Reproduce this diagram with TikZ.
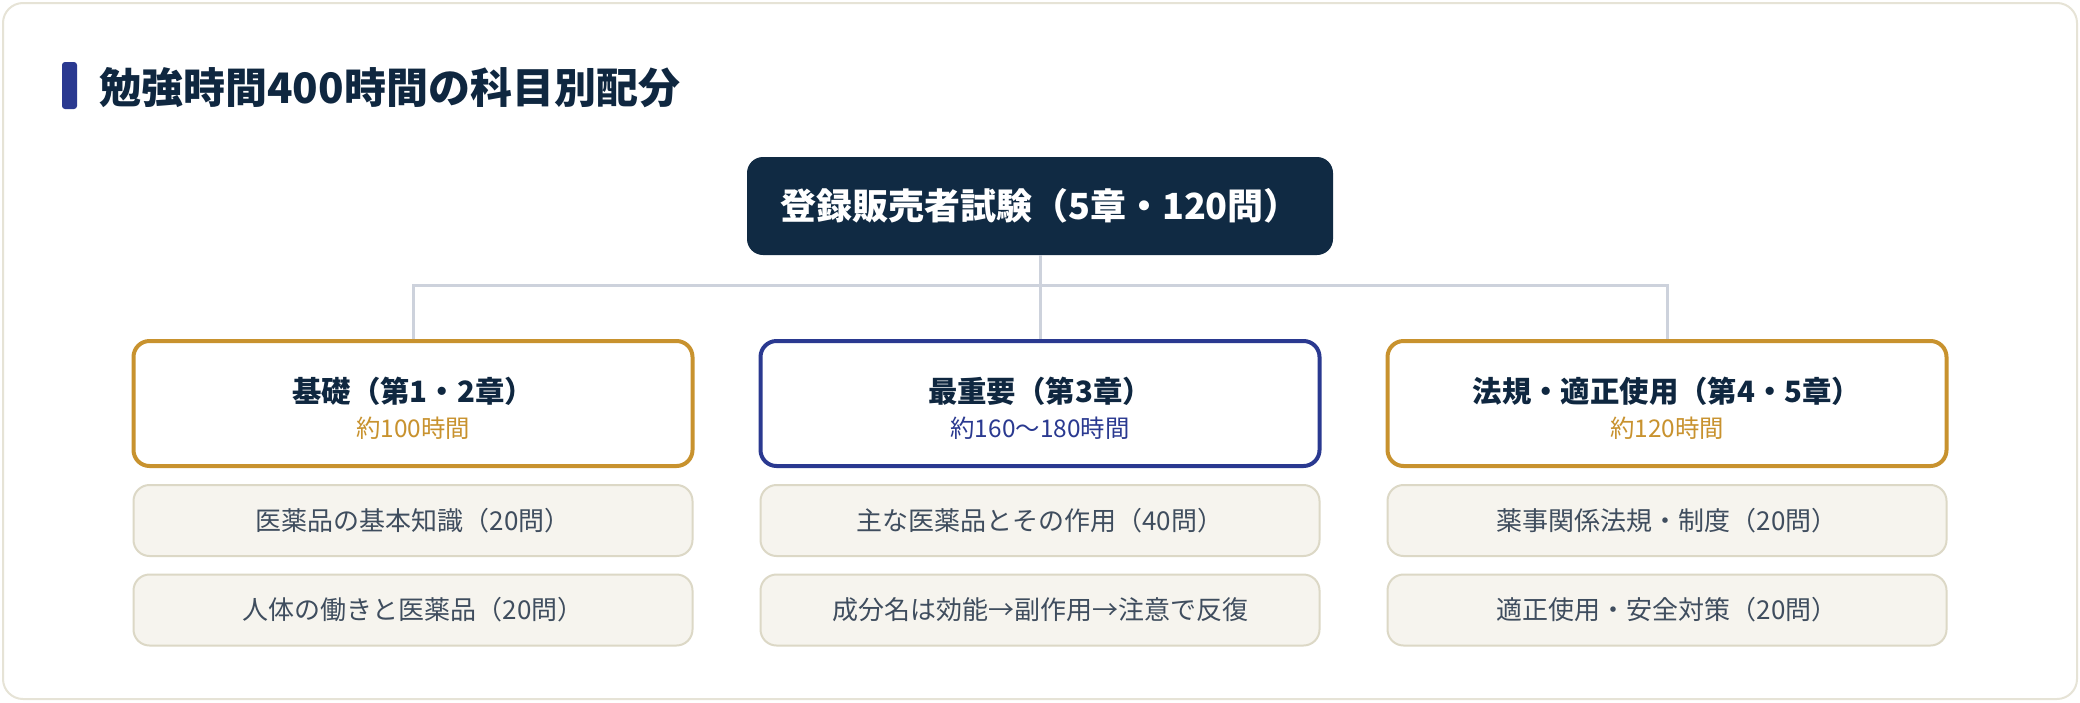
\documentclass[tikz,border=0pt]{standalone}
\usepackage{fontspec}
\setmainfont{Noto Sans CJK JP}
\definecolor{navy}{HTML}{0F2740}
\definecolor{headfill}{HTML}{102A43}
\definecolor{gold}{HTML}{C8922E}
\definecolor{indigo}{HTML}{2A3990}
\definecolor{itemfill}{HTML}{F6F4EE}
\definecolor{itemline}{HTML}{DCD8C6}
\definecolor{itemtext}{HTML}{3F4D5E}
\definecolor{cardline}{HTML}{E6E3D6}
\definecolor{conncol}{HTML}{CDD2DC}
\begin{document}
\begin{tikzpicture}[x=0.5pt,y=-0.5pt,
  card/.style={draw=cardline,line width=1pt,rounded corners=10pt,fill=white},
  headbox/.style={fill=headfill,rounded corners=8pt,minimum width=293pt,minimum height=49pt,inner sep=0pt,text=white,font=\bfseries\fontsize{18}{20}\selectfont},
  catbox/.style={draw=#1,fill=white,line width=2pt,rounded corners=8pt,minimum width=279.5pt,minimum height=62.5pt,inner sep=0pt},
  cattitle/.style={text=navy,font=\bfseries\fontsize{14.7}{16}\selectfont,inner sep=0pt},
  catsub/.style={text=#1,font=\fontsize{12.2}{14}\selectfont,inner sep=0pt},
  itembox/.style={draw=itemline,fill=itemfill,line width=1pt,rounded corners=8pt,minimum width=279.5pt,minimum height=35.5pt,inner sep=0pt,text=itemtext,font=\fontsize{13}{15}\selectfont},
  conn/.style={draw=conncol,line width=1.5pt}]
\useasboundingbox (0,0) rectangle (2080,702);
\draw[card] (3,3) rectangle (2077,699);
% title
\fill[indigo,rounded corners=1.5pt] (62,62) rectangle (77,109);
\node[anchor=west,inner sep=0pt,text=navy,font=\bfseries\fontsize{21}{24}\selectfont] (title) at (99,88) {勉強時間400時間の科目別配分};
% header
\node[headbox] (head) at (1040,206) {登録販売者試験（5章・120問）};
% categories
\node[catbox=gold] (c1) at (413,403.5) {};
\node[catbox=indigo] (c2) at (1040,403.5) {};
\node[catbox=gold] (c3) at (1667,403.5) {};
\node[cattitle] (c1t) at (413,391) {基礎（第1・2章）};
\node[catsub=gold] (c1s) at (413,428) {約100時間};
\node[cattitle] (c2t) at (1040,391) {最重要（第3章）};
\node[catsub=indigo] (c2s) at (1040,428) {約160〜180時間};
\node[cattitle] (c3t) at (1667,391) {法規・適正使用（第4・5章）};
\node[catsub=gold] (c3s) at (1667,428) {約120時間};
% connectors
\coordinate (bus) at (1040,285);
\draw[conn] (head.south) -- (bus);
\draw[conn] (c1.north) |- (bus) -| (c3.north);
\draw[conn] (bus) -- (c2.north);
% items
\node[itembox] (i11) at (413,520.5) {医薬品の基本知識（20問）};
\node[itembox] (i12) at (413,610) {人体の働きと医薬品（20問）};
\node[itembox] (i21) at (1040,520.5) {主な医薬品とその作用（40問）};
\node[itembox] (i22) at (1040,610) {成分名は効能→副作用→注意で反復};
\node[itembox] (i31) at (1667,520.5) {薬事関係法規・制度（20問）};
\node[itembox] (i32) at (1667,610) {適正使用・安全対策（20問）};
\end{tikzpicture}
\end{document}
